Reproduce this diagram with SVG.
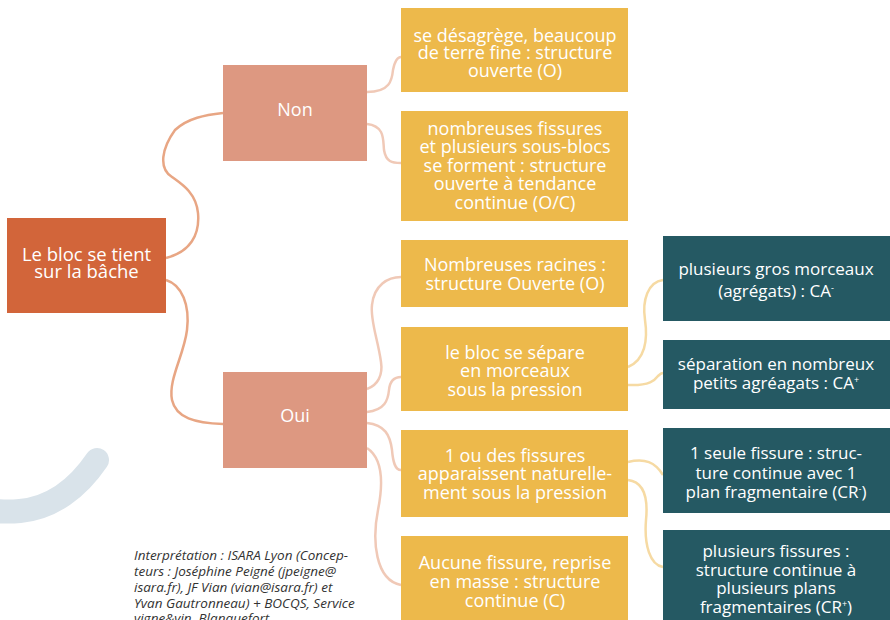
<svg xmlns="http://www.w3.org/2000/svg" width="890" height="620" viewBox="0 0 890 620">
<style>
text{font-family:"Open Sans","Noto Sans","Liberation Sans",sans-serif;text-anchor:middle;fill:#FFFFFF}
.t16{font-size:18px}
.dk{font-size:17px}
.root rect{fill:#D2653A}
.mid rect{fill:#DD9881}
.yel rect{fill:#EDB94B}
.dark rect{fill:#255963}
.c1{fill:none;stroke:#E8A684;stroke-width:2.5}
.c2{fill:none;stroke:#F0C9B7;stroke-width:2.5}
.c3{fill:none;stroke:#F6DAA3;stroke-width:2.5}
.note{font-size:13.5px;font-style:italic;fill:#333333;text-anchor:start}
.sup{font-size:9px}
</style>
<path d="M97,460 C78,488 52,508 20,511 C10,512 0,512 -12,510" fill="none" stroke="#D9E3EA" stroke-width="24" stroke-linecap="round"/>
<g id="connectors">
<path class="c1" d="M166,258 C190,252 200,235 198,213 C196,192 180,183 172,177 C158,168 162,148 175,130 C188,118 205,115 223,113"/>
<path class="c1" d="M166,280 C182,285 190,305 187,330 C184,355 168,380 172,400 C176,418 195,423 223,424"/>
<path class="c2" d="M367,92 C390,92 392,80 393,70 C395,60 398,57 401,57"/>
<path class="c2" d="M367,124 C385,126 383,140 384,150 C386,162 392,163 401,163"/>
<path class="c2" d="M367,389 C378,385 383,375 381,362 C378,340 370,320 372,305 C374,285 388,277 401,277"/>
<path class="c2" d="M367,412 C385,410 388,400 389,390 C390,380 395,377 401,377"/>
<path class="c2" d="M367,423 C385,425 390,435 392,450 C393,462 395,470 401,470"/>
<path class="c2" d="M367,448 C385,460 382,490 378,510 C372,540 375,580 401,585"/>
<path class="c3" d="M628,367 C645,360 648,340 645,320 C642,300 648,282 663,280"/>
<path class="c3" d="M628,385 C650,386 655,380 658,376 C660,374 661,373 663,373"/>
<path class="c3" d="M628,462 C645,458 655,462 663,475"/>
<path class="c3" d="M628,480 C645,482 648,500 646,520 C644,545 650,565 663,567"/>
</g>
<g id="root" class="root">
<rect x="7" y="218" width="159" height="95"/>
<text x="86.5" y="261" style="font-size:18.5px">Le bloc se tient</text>
<text x="86.5" y="278" style="font-size:18.5px">sur la bâche</text>
</g>
<g id="non" class="mid">
<rect x="223" y="65" width="144" height="96"/>
<text x="295" y="116" style="font-size:18px">Non</text>
</g>
<g id="oui" class="mid">
<rect x="223" y="372" width="144" height="96"/>
<text x="295" y="422" style="font-size:18px">Oui</text>
</g>
<g id="y1" class="yel">
<rect x="401" y="8" width="227" height="84"/>
<text class="t16" x="515" y="41.5">se désagrège, beaucoup</text>
<text class="t16" x="515" y="59">de terre fine :  structure</text>
<text class="t16" x="515" y="77">ouverte (O)</text>
</g>
<g id="y2" class="yel">
<rect x="401" y="111" width="227" height="110"/>
<text class="t16" x="515" y="135">nombreuses fissures</text>
<text class="t16" x="515" y="153">et plusieurs sous-blocs</text>
<text class="t16" x="515" y="172">se forment : structure</text>
<text class="t16" x="515" y="190">ouverte à tendance</text>
<text class="t16" x="515" y="209">continue (O/C)</text>
</g>
<g id="y3" class="yel">
<rect x="401" y="240" width="227" height="67"/>
<text class="t16" x="515" y="271">Nombreuses racines :</text>
<text class="t16" x="515" y="290">structure Ouverte (O)</text>
</g>
<g id="y4" class="yel">
<rect x="401" y="327" width="227" height="84"/>
<text class="t16" x="515" y="359">le bloc se sépare</text>
<text class="t16" x="515" y="377">en morceaux</text>
<text class="t16" x="515" y="396">sous la pression</text>
</g>
<g id="y5" class="yel">
<rect x="401" y="430" width="227" height="87"/>
<text class="t16" x="515" y="462">1 ou des fissures</text>
<text class="t16" x="515" y="480">apparaissent naturelle-</text>
<text class="t16" x="515" y="499">ment sous la pression</text>
</g>
<g id="y6" class="yel">
<rect x="401" y="536" width="227" height="90"/>
<text class="t16" x="515" y="569">Aucune fissure, reprise</text>
<text class="t16" x="515" y="588">en masse : structure</text>
<text class="t16" x="515" y="607">continue (C)</text>
</g>
<g id="d1" class="dark">
<rect x="663" y="236" width="230" height="85"/>
<text class="dk" x="776" y="275">plusieurs gros morceaux</text>
<text class="dk" x="776" y="297">(agrégats) : CA<tspan class="sup" dy="-6">-</tspan></text>
</g>
<g id="d2" class="dark">
<rect x="663" y="340" width="230" height="69"/>
<text class="dk" x="776" y="370">séparation en nombreux</text>
<text class="dk" x="776" y="389">petits agréagats : CA<tspan class="sup" dy="-6">+</tspan></text>
</g>
<g id="d3" class="dark">
<rect x="663" y="428" width="230" height="85"/>
<text class="dk" x="776" y="459">1 seule fissure : struc-</text>
<text class="dk" x="776" y="479">ture continue avec 1</text>
<text class="dk" x="776" y="498">plan fragmentaire (CR<tspan class="sup" dy="-6">-</tspan><tspan dy="6">)</tspan></text>
</g>
<g id="d4" class="dark">
<rect x="663" y="530" width="230" height="95"/>
<text class="dk" x="776" y="557">plusieurs fissures :</text>
<text class="dk" x="776" y="576">structure continue à</text>
<text class="dk" x="776" y="594">plusieurs plans</text>
<text class="dk" x="776" y="613">fragmentaires (CR<tspan class="sup" dy="-6">+</tspan><tspan dy="6">)</tspan></text>
</g>
<g id="note">
<text class="note" x="134" y="560">Interprétation : ISARA Lyon (Concep-</text>
<text class="note" x="134" y="576">teurs : Joséphine Peigné (jpeigne@</text>
<text class="note" x="134" y="592">isara.fr), JF Vian (vian@isara.fr) et</text>
<text class="note" x="134" y="607.5">Yvan Gautronneau) + BOCQS, Service</text>
<text class="note" x="134" y="623">vigne&amp;vin, Blanquefort</text>
</g>
</svg>
